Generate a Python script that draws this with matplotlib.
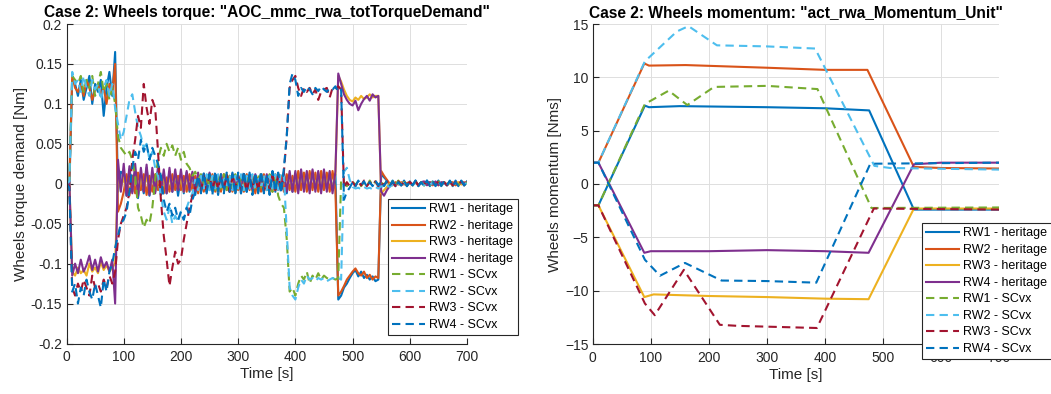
import numpy as np
import matplotlib
matplotlib.use('Agg')
from matplotlib import pyplot as plt

plt.rcParams['font.family'] = ['Liberation Sans', 'DejaVu Sans']

# ---- torque log, one sample every 5 s [Nm] ----
t_trq = np.arange(0, 701, 5)

rw1_her_trq = ([0.000, -0.005, 0.130, 0.125, 0.110, 0.130, 0.105, 0.120, 0.135, 0.100, 0.125, 0.115, 0.130, 0.085, 0.120, 0.140, 0.110, 0.165, -0.010, 0.015]
               + [0.012, -0.015, 0.018, -0.010, 0.015, -0.018, 0.010, -0.012, 0.020, -0.015, 0.012, -0.010, 0.016, -0.014, 0.010, -0.012, 0.015, -0.010, 0.012, -0.015]
               + [0.010, -0.012, 0.014, -0.010, 0.012, -0.014, 0.010, -0.008, 0.013, -0.012, 0.010, -0.010, 0.012, -0.014, 0.010, -0.008, 0.012, -0.010, 0.014, -0.012]
               + [0.010, -0.012, 0.012, -0.010, 0.014, -0.008, 0.010, -0.012, 0.012, -0.010, 0.010, -0.012, 0.014, -0.010, 0.012, -0.008, 0.010, -0.012, 0.012, -0.010]
               + [0.012, -0.008, 0.014, -0.006, 0.012, -0.008, 0.014, -0.006, 0.012, -0.008, 0.012, -0.006, 0.014, -0.008, 0.012, -0.145, -0.140, -0.130, -0.125, -0.118]
               + [-0.112, -0.108, -0.116, -0.110, -0.118, -0.114, -0.120, -0.116, -0.122, -0.120, 0.012, 0.008, 0.004, -0.002, 0.004, -0.003, 0.003, -0.002, 0.004, -0.003]
               + [0.003, -0.002, 0.004, -0.003, 0.002, -0.002, 0.004, -0.003, 0.003, -0.002, 0.004, -0.003, 0.002, -0.002, 0.003, -0.003, 0.004, -0.002, 0.003, -0.002, 0.003])
rw2_her_trq = ([0.000, 0.005, 0.135, 0.120, 0.115, 0.125, 0.110, 0.130, 0.120, 0.105, 0.118, 0.125, 0.110, 0.120, 0.100, 0.125, 0.115, 0.150, -0.035, -0.025]
               + [-0.010, 0.012, -0.015, 0.010, -0.012, 0.014, -0.008, 0.012, -0.014, 0.010, -0.010, 0.012, -0.008, 0.010, -0.012, 0.008, -0.010, 0.012, -0.008, 0.010]
               + [-0.008, 0.010, -0.010, 0.012, -0.008, 0.010, -0.012, 0.008, -0.010, 0.010, -0.008, 0.012, -0.010, 0.008, -0.010, 0.012, -0.008, 0.010, -0.010, 0.008]
               + [-0.008, 0.010, -0.010, 0.012, -0.008, 0.010, -0.012, 0.008, -0.010, 0.012, -0.008, 0.010, -0.010, 0.012, -0.008, 0.010, -0.010, 0.012, -0.008, 0.010]
               + [-0.010, 0.016, -0.008, 0.014, -0.010, 0.016, -0.008, 0.014, -0.010, 0.016, -0.008, 0.014, -0.010, 0.016, -0.008, -0.140, -0.135, -0.128, -0.120, -0.115]
               + [-0.110, -0.106, -0.112, -0.115, -0.110, -0.118, -0.114, -0.120, -0.116, -0.118, 0.016, 0.010, 0.005, 0.000, -0.002, 0.002, -0.001, 0.002, -0.001, 0.001]
               + [0.002, -0.001, 0.002, -0.002, 0.001, 0.002, -0.001, 0.002, -0.002, 0.001, 0.002, -0.001, 0.002, -0.001, 0.001, 0.002, -0.002, 0.001, 0.002, -0.001, 0.002])
rw3_her_trq = ([0.000, 0.002, -0.110, -0.115, -0.105, -0.112, -0.108, -0.115, -0.100, -0.110, -0.105, -0.112, -0.098, -0.108, -0.102, -0.110, -0.105, -0.100, 0.010, -0.005]
               + [0.008, -0.010, 0.012, -0.008, 0.010, -0.012, 0.008, -0.006, 0.010, -0.010, 0.012, -0.008, 0.010, -0.006, 0.008, -0.010, 0.010, -0.008, 0.012, -0.006]
               + [0.008, -0.010, 0.010, -0.008, 0.012, -0.006, 0.008, -0.010, 0.010, -0.008, 0.012, -0.006, 0.008, -0.010, 0.010, -0.008, 0.012, -0.006, 0.008, -0.010]
               + [0.010, -0.008, 0.012, -0.006, 0.008, -0.010, 0.010, -0.008, 0.012, -0.006, 0.008, -0.010, 0.010, -0.008, 0.012, -0.006, 0.010, -0.008, 0.012, -0.008]
               + [0.012, -0.008, 0.016, -0.006, 0.014, -0.008, 0.016, -0.006, 0.014, -0.008, 0.016, -0.006, 0.014, -0.008, 0.012, 0.135, 0.128, 0.118, 0.110, 0.105]
               + [0.103, 0.108, 0.105, 0.110, 0.106, 0.108, 0.112, 0.108, 0.110, 0.110, -0.012, -0.008, -0.004, 0.000, 0.002, -0.002, 0.002, 0.000, 0.002, -0.002]
               + [0.001, -0.002, 0.002, -0.001, 0.002, -0.002, 0.001, 0.002, -0.001, 0.002, -0.002, 0.001, 0.002, -0.001, 0.002, -0.002, 0.001, 0.002, -0.001, 0.002, 0.001])
rw4_her_trq = ([0.000, 0.003, -0.115, -0.100, -0.112, -0.095, -0.110, -0.102, -0.090, -0.108, -0.095, -0.110, -0.092, -0.105, -0.098, -0.110, -0.095, -0.150, 0.030, -0.010]
               + [0.025, -0.015, 0.022, -0.012, 0.025, -0.015, 0.020, -0.010, 0.024, -0.014, 0.020, -0.012, 0.022, -0.010, 0.018, -0.012, 0.020, -0.010, 0.018, -0.008]
               + [0.018, -0.010, 0.016, -0.008, 0.015, -0.010, 0.014, -0.008, 0.012, -0.008, 0.014, -0.006, 0.012, -0.008, 0.012, -0.006, 0.010, -0.008, 0.012, -0.006]
               + [0.010, -0.008, 0.012, -0.006, 0.010, -0.008, 0.012, -0.006, 0.010, -0.006, 0.012, -0.008, 0.010, -0.006, 0.012, -0.008, 0.014, -0.010, 0.016, -0.010]
               + [0.016, -0.012, 0.018, -0.010, 0.016, -0.012, 0.018, -0.010, 0.016, -0.012, 0.018, -0.010, 0.016, -0.012, 0.015, 0.138, 0.125, 0.112, 0.105, 0.100]
               + [0.098, 0.104, 0.092, 0.100, 0.106, 0.110, 0.104, 0.112, 0.108, 0.110, -0.010, -0.015, -0.008, -0.003, 0.002, -0.002, 0.003, -0.001, 0.002, -0.002]
               + [0.002, -0.001, 0.003, -0.002, 0.002, 0.003, -0.002, 0.002, -0.001, 0.003, -0.002, 0.002, 0.001, -0.002, 0.003, -0.001, 0.002, -0.002, 0.003, 0.001, 0.002])
rw1_scvx_trq = ([0.000, 0.005, 0.135, 0.130, 0.125, 0.135, 0.115, 0.130, 0.120, 0.135, 0.110, 0.125, 0.140, 0.115, 0.125, 0.105, 0.120, 0.100, 0.060, 0.045]
                + [0.040, 0.035, 0.040, 0.030, 0.010, -0.030, -0.040, -0.055, -0.045, -0.050, -0.030, 0.005, 0.030, 0.045, 0.035, 0.050, 0.040, 0.048, 0.035, 0.045]
                + [0.030, 0.040, 0.025, 0.020, 0.010, 0.015, 0.005, 0.012, 0.000, 0.010, -0.005, 0.012, -0.008, 0.010, -0.006, 0.012, -0.008, 0.010, -0.005, 0.012]
                + [-0.006, 0.010, -0.008, 0.012, -0.005, 0.010, -0.008, 0.012, -0.006, 0.010, -0.008, 0.012, -0.010, 0.010, -0.015, -0.025, -0.030, -0.070, -0.135, -0.130]
                + [-0.140, -0.125, -0.115, -0.120, -0.110, -0.125, -0.115, -0.120, -0.112, -0.120, -0.115, -0.118, -0.120, -0.118, -0.120, -0.118, 0.005, 0.002, -0.003, 0.002]
                + [0.003, -0.002, 0.004, -0.003, 0.002, -0.003, 0.004, -0.002, 0.003, -0.003, 0.002, -0.002, 0.004, -0.003, 0.003, -0.002, 0.004, -0.003, 0.002, -0.002]
                + [0.002, -0.002, 0.003, -0.001, 0.002, -0.002, 0.003, -0.002, 0.002, -0.001, 0.003, -0.002, 0.002, -0.002, 0.003, -0.001, 0.002, -0.002, 0.003, -0.002, 0.002])
rw2_scvx_trq = ([0.000, 0.003, 0.140, 0.125, 0.130, 0.115, 0.135, 0.120, 0.110, 0.130, 0.118, 0.125, 0.105, 0.120, 0.130, 0.110, 0.125, 0.095, 0.075, 0.055]
                + [0.065, 0.085, 0.105, 0.112, 0.090, 0.070, 0.060, 0.045, 0.050, 0.030, 0.040, 0.020, 0.010, -0.015, -0.035, -0.045, -0.030, -0.050, -0.040, -0.048]
                + [-0.035, -0.045, -0.030, -0.020, -0.012, 0.005, -0.008, 0.010, -0.006, 0.012, -0.008, 0.010, -0.006, 0.012, -0.008, 0.010, -0.006, 0.012, -0.008, 0.010]
                + [-0.006, 0.012, -0.008, 0.010, -0.006, 0.012, -0.008, 0.010, -0.006, 0.012, -0.008, 0.010, -0.006, 0.012, -0.008, 0.015, 0.010, -0.060, -0.130, -0.140]
                + [-0.145, -0.130, -0.120, -0.125, -0.115, -0.120, -0.118, -0.122, -0.118, -0.120, -0.118, -0.122, -0.120, -0.118, -0.120, -0.118, -0.120, 0.015, 0.020, 0.005]
                + [-0.004, -0.006, -0.005, -0.007, -0.004, -0.006, -0.005, -0.007, -0.004, -0.006, -0.003, -0.005, -0.002, -0.004, -0.001, -0.003, 0.000, -0.002, 0.001, -0.002]
                + [0.001, -0.002, 0.002, -0.001, 0.001, -0.002, 0.002, -0.001, 0.001, -0.002, 0.002, -0.001, 0.001, -0.002, 0.002, -0.001, 0.001, -0.002, 0.002, -0.001, 0.001])
rw3_scvx_trq = ([0.000, -0.003, -0.130, -0.140, -0.125, -0.135, -0.120, -0.130, -0.140, -0.115, -0.130, -0.125, -0.135, -0.120, -0.130, -0.115, -0.125, -0.110, -0.070, -0.050]
                + [-0.040, -0.030, -0.010, 0.030, 0.055, 0.085, 0.070, 0.125, 0.095, 0.075, 0.105, 0.095, 0.040, -0.020, -0.065, -0.095, -0.128, -0.105, -0.085, -0.100]
                + [-0.095, -0.070, -0.050, -0.030, -0.015, -0.005, 0.008, -0.010, 0.010, -0.008, 0.012, -0.010, 0.008, -0.006, 0.010, -0.008, 0.012, -0.010, 0.008, -0.006]
                + [0.010, -0.008, 0.012, -0.010, 0.008, -0.006, 0.010, -0.008, 0.012, -0.010, 0.008, -0.006, 0.010, -0.008, 0.012, -0.010, 0.015, 0.060, 0.120, 0.130]
                + [0.135, 0.120, 0.110, 0.120, 0.115, 0.120, 0.112, 0.118, 0.105, 0.115, 0.118, 0.120, 0.108, 0.120, 0.118, 0.122, 0.118, -0.005, 0.002, -0.003]
                + [0.002, -0.003, 0.003, -0.002, 0.004, -0.003, 0.002, -0.002, 0.003, -0.003, 0.002, -0.002, 0.003, -0.002, 0.002, -0.003, 0.003, -0.002, 0.002, -0.002]
                + [0.002, -0.002, 0.003, -0.002, 0.002, -0.001, 0.003, -0.002, 0.002, -0.002, 0.003, -0.001, 0.002, -0.002, 0.003, -0.002, 0.002, -0.001, 0.003, -0.002, 0.002])
rw4_scvx_trq = ([0.000, -0.005, -0.135, -0.125, -0.150, -0.130, -0.140, -0.120, -0.135, -0.145, -0.125, -0.140, -0.155, -0.120, -0.135, -0.110, -0.100, -0.080, -0.065, -0.050]
                + [-0.045, -0.035, -0.010, 0.020, 0.040, 0.030, 0.055, 0.040, 0.050, 0.030, 0.045, 0.035, 0.025, 0.010, -0.020, -0.035, -0.025, -0.040, -0.030, -0.045]
                + [-0.035, -0.045, -0.030, -0.040, -0.020, -0.010, 0.010, -0.012, 0.014, -0.010, 0.012, -0.014, 0.016, -0.010, 0.012, -0.012, 0.014, -0.010, 0.012, -0.014]
                + [0.014, -0.012, 0.016, -0.010, 0.012, -0.014, 0.014, -0.010, 0.016, -0.012, 0.012, -0.014, 0.016, -0.010, 0.014, -0.012, 0.020, 0.060, 0.125, 0.138]
                + [0.130, 0.110, 0.120, 0.115, 0.122, 0.118, 0.112, 0.120, 0.116, 0.122, 0.118, 0.115, 0.120, 0.118, 0.122, 0.115, 0.118, -0.020, -0.010, -0.005]
                + [0.002, -0.003, 0.004, -0.002, 0.003, -0.004, 0.002, -0.003, 0.004, -0.002, 0.003, -0.003, 0.004, -0.002, 0.003, -0.003, 0.002, -0.002, 0.004, -0.003]
                + [0.003, -0.002, 0.004, -0.003, 0.002, -0.003, 0.004, -0.002, 0.003, -0.003, 0.004, -0.002, 0.003, -0.002, 0.004, -0.003, 0.002, -0.003, 0.004, -0.002, 0.003])

# ---- wheel momentum, breakpoints (time [s], momentum [Nms]) ----
rw1_her_t = [0, 10, 90, 97, 150, 300, 400, 476, 553, 700]
rw1_her_h = [-2, -2, 7.35, 7.2, 7.3, 7.2, 7.1, 6.9, -2.4, -2.4]
rw2_her_t = [0, 10, 89, 97, 160, 300, 400, 473, 553, 600, 700]
rw2_her_h = [2, 2, 11.3, 11.1, 11.15, 10.9, 10.7, 10.7, 1.6, 1.5, 1.45]
rw3_her_t = [0, 10, 89, 105, 200, 300, 400, 475, 553, 700]
rw3_her_h = [-2, -2, -10.6, -10.35, -10.5, -10.6, -10.75, -10.8, -2.3, -2.3]
rw4_her_t = [0, 10, 89, 100, 200, 300, 400, 475, 553, 600, 700]
rw4_her_h = [2, 2, -6.45, -6.3, -6.3, -6.2, -6.3, -6.45, 1.85, 2.0, 2.0]
rw1_scvx_t = [0, 10, 90, 131, 163, 209, 300, 387, 480, 700]
rw1_scvx_h = [-2, -2, 7.5, 8.75, 7.4, 9.1, 9.2, 8.9, -2.25, -2.2]
rw2_scvx_t = [0, 10, 90, 145, 165, 214, 300, 383, 485, 512, 700]
rw2_scvx_h = [2, 2, 11.5, 14.3, 14.8, 13.0, 12.9, 12.7, 1.7, 1.5, 1.35]
rw3_scvx_t = [0, 10, 90, 107, 157, 219, 250, 386, 484, 700]
rw3_scvx_h = [-2, -2, -11.2, -12.3, -8.05, -13.2, -13.3, -13.5, -2.3, -2.4]
rw4_scvx_t = [0, 10, 90, 116, 159, 222, 300, 385, 478, 700]
rw4_scvx_h = [2, 2, -7.1, -8.6, -7.4, -9.05, -9.1, -9.25, 1.9, 2.0]

labels = ['RW1 - heritage', 'RW2 - heritage', 'RW3 - heritage', 'RW4 - heritage',
          'RW1 - SCvx', 'RW2 - SCvx', 'RW3 - SCvx', 'RW4 - SCvx']
colors = ['#0072BD', '#D95319', '#EDB120', '#7E2F8E',
          '#77AC30', '#4DBEEE', '#A2142F', '#0072BD']

torques = [rw1_her_trq, rw2_her_trq, rw3_her_trq, rw4_her_trq,
           rw1_scvx_trq, rw2_scvx_trq, rw3_scvx_trq, rw4_scvx_trq]
momenta = [(rw1_her_t, rw1_her_h), (rw2_her_t, rw2_her_h), (rw3_her_t, rw3_her_h), (rw4_her_t, rw4_her_h),
           (rw1_scvx_t, rw1_scvx_h), (rw2_scvx_t, rw2_scvx_h), (rw3_scvx_t, rw3_scvx_h), (rw4_scvx_t, rw4_scvx_h)]

dark = '#262626'
W, H = 1051, 394

fig = plt.figure(figsize=(W / 100, H / 100), dpi=100)
ax1 = fig.add_axes([66.5 / W, 1 - 343.5 / H, 400.5 / W, 319.5 / H])
ax2 = fig.add_axes([592.6 / W, 1 - 344 / H, 406.7 / W, 320 / H])


def style(k):
    return dict(color=colors[k], lw=1.5, label=labels[k],
                ls='-' if k < 4 else (0, (4, 2.5)))


for k, y in enumerate(torques):
    ax1.plot(t_trq, y, **style(k))
for k, (tt, hh) in enumerate(momenta):
    ax2.plot(tt, hh, **style(k))

ax1.set_ylim(-0.2, 0.2)
ax1.set_yticks(np.arange(-0.2, 0.201, 0.05))
ax1.set_yticklabels(['-0.2', '-0.15', '-0.1', '-0.05', '0', '0.05', '0.1', '0.15', '0.2'])
ax2.set_ylim(-15, 15)
ax2.set_yticks(range(-15, 16, 5))

titles = ['Case 2: Wheels torque: "AOC_mmc_rwa_totTorqueDemand"',
          'Case 2: Wheels momentum: "act_rwa_Momentum_Unit"']
ylabels = ['Wheels torque demand [Nm]', 'Wheels momentum [Nms]']
leg_pos = [(388, 199), (922, 223)]

for ax, ttl, yl, (lx, ly) in zip([ax1, ax2], titles, ylabels, leg_pos):
    ax.set_xlim(0, 700)
    ax.set_xticks(range(0, 701, 100))
    ax.grid(True, color='#dedede', lw=0.7)
    ax.set_axisbelow(True)
    for s in ['top', 'right']:
        ax.spines[s].set_visible(False)
    for s in ['left', 'bottom']:
        ax.spines[s].set_color(dark)
        ax.spines[s].set_linewidth(0.8)
    ax.tick_params(direction='in', length=4, width=0.8, colors=dark, labelsize=10)
    ax.tick_params(axis='x', pad=5)
    ax.tick_params(axis='y', pad=3)
    ax.set_title(ttl, fontsize=11.2, fontweight='bold', pad=5)
    ax.set_xlabel('Time [s]', fontsize=11, color=dark, labelpad=2)
    ax.set_ylabel(yl, fontsize=11, color=dark, labelpad=2)
    leg = ax.legend(loc='upper left', bbox_to_anchor=(lx / W, 1 - ly / H),
                    bbox_transform=fig.transFigure, fontsize=9, fancybox=False,
                    edgecolor=dark, framealpha=1, borderaxespad=0, borderpad=0.35,
                    labelspacing=0.36, handlelength=2.6, handletextpad=0.35)
    leg.get_frame().set_linewidth(0.8)
    leg.set_zorder(10)

fig.savefig('out.png', dpi=100)
